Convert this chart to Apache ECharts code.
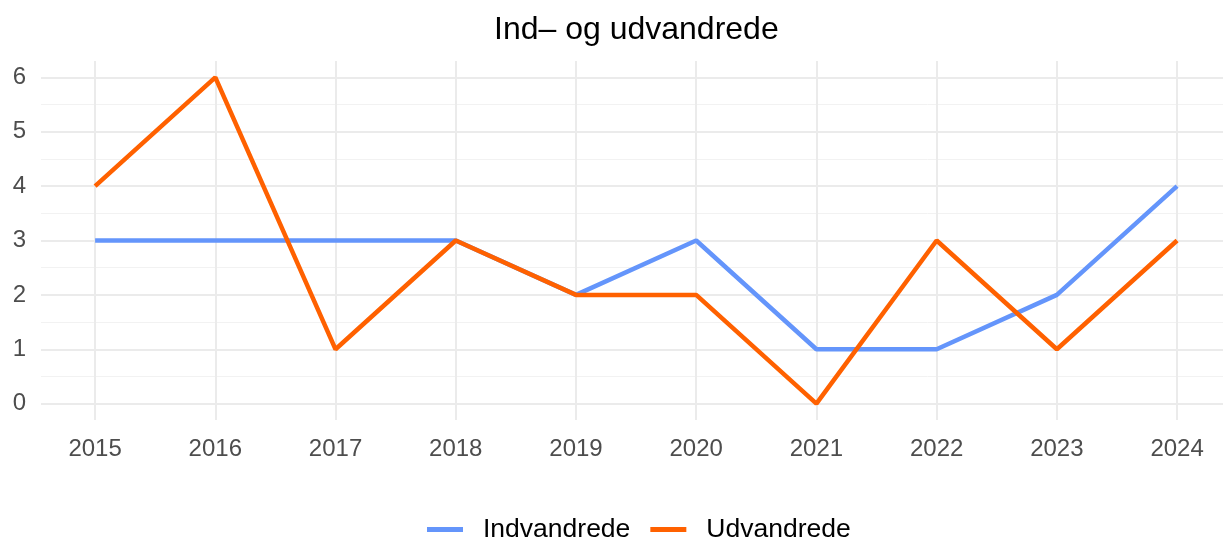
<!DOCTYPE html>
<html>
<head>
<meta charset="utf-8">
<script src="https://cdn.jsdelivr.net/npm/echarts@6/dist/echarts.min.js"></script>
<style>
  html, body { margin: 0; padding: 0; background: #fff; }
  #chart { width: 1223px; height: 538px; }
</style>
</head>
<body>
<div id="chart"></div>
<script>
// data
const years = [2015, 2016, 2017, 2018, 2019, 2020, 2021, 2022, 2023, 2024];
const indvandrede = [3, 3, 3, 3, 2, 3, 1, 1, 2, 4];
const udvandrede = [4, 6, 1, 3, 2, 2, 0, 3, 1, 3];
const yTicks = [0, 1, 2, 3, 4, 5, 6];
const yMinor = [0.5, 1.5, 2.5, 3.5, 4.5, 5.5];

const toPairs = (vals) => years.map((y, i) => [y, vals[i]]);

const chart = echarts.init(document.getElementById("chart"));

const labelStyle = {
    color: "#4d4d4d",
    fontSize: 24,
    fontFamily: "Liberation Sans, Arial, sans-serif"
};

chart.setOption({
    animation: false,
    title: {
        text: "Ind\u2013 og udvandrede",
        left: 489,
        top: 9,
        textStyle: {
            color: "#000",
            fontSize: 32,
            fontWeight: "normal",
            fontFamily: "Liberation Sans, Arial, sans-serif"
        }
    },
    legend: {
        left: 422,
        top: 511,
        icon: "rect",
        itemWidth: 36,
        itemHeight: 5,
        itemGap: 20,
        textStyle: {
            color: "#000",
            fontSize: 26.5,
            padding: [0, 0, 0, 15],
            fontFamily: "Liberation Sans, Arial, sans-serif"
        },
        data: ["Indvandrede", "Udvandrede"]
    },
    grid: {
        left: 41,
        right: 0,
        top: 61,
        bottom: 118
    },
    xAxis: {
        type: "value",
        min: 2014.55,
        max: 2024.382,
        axisLine: { show: false },
        axisTick: { show: false, customValues: years },
        axisLabel: Object.assign({
            customValues: years,
            margin: 17,
            formatter: (v) => String(v)
        }, labelStyle),
        splitLine: { show: true, lineStyle: { color: "#ebebeb", width: 2 } }
    },
    yAxis: [
        {
            type: "value",
            min: -0.3,
            max: 6.3,
            axisLine: { show: false },
            axisTick: { show: false, customValues: yTicks },
            axisLabel: Object.assign({ customValues: yTicks, margin: 15 }, labelStyle),
            splitLine: { show: true, lineStyle: { color: "#ebebeb", width: 2 } }
        },
        {
            type: "value",
            min: -0.3,
            max: 6.3,
            position: "left",
            axisLine: { show: false },
            axisTick: { show: false, customValues: yMinor },
            axisLabel: { show: false, customValues: yMinor },
            splitLine: { show: true, lineStyle: { color: "#f2f2f2", width: 1 } }
        }
    ],
    series: [
        {
            name: "Indvandrede",
            type: "line",
            data: toPairs(indvandrede),
            showSymbol: false,
            symbol: "none",
            color: "#6495fb",
            lineStyle: { width: 4.5, color: "#6495fb" },
            z: 3
        },
        {
            name: "Udvandrede",
            type: "line",
            data: toPairs(udvandrede),
            showSymbol: false,
            symbol: "none",
            color: "#ff6100",
            lineStyle: { width: 4.5, color: "#ff6100" },
            z: 4
        }
    ]
});
</script>
</body>
</html>
